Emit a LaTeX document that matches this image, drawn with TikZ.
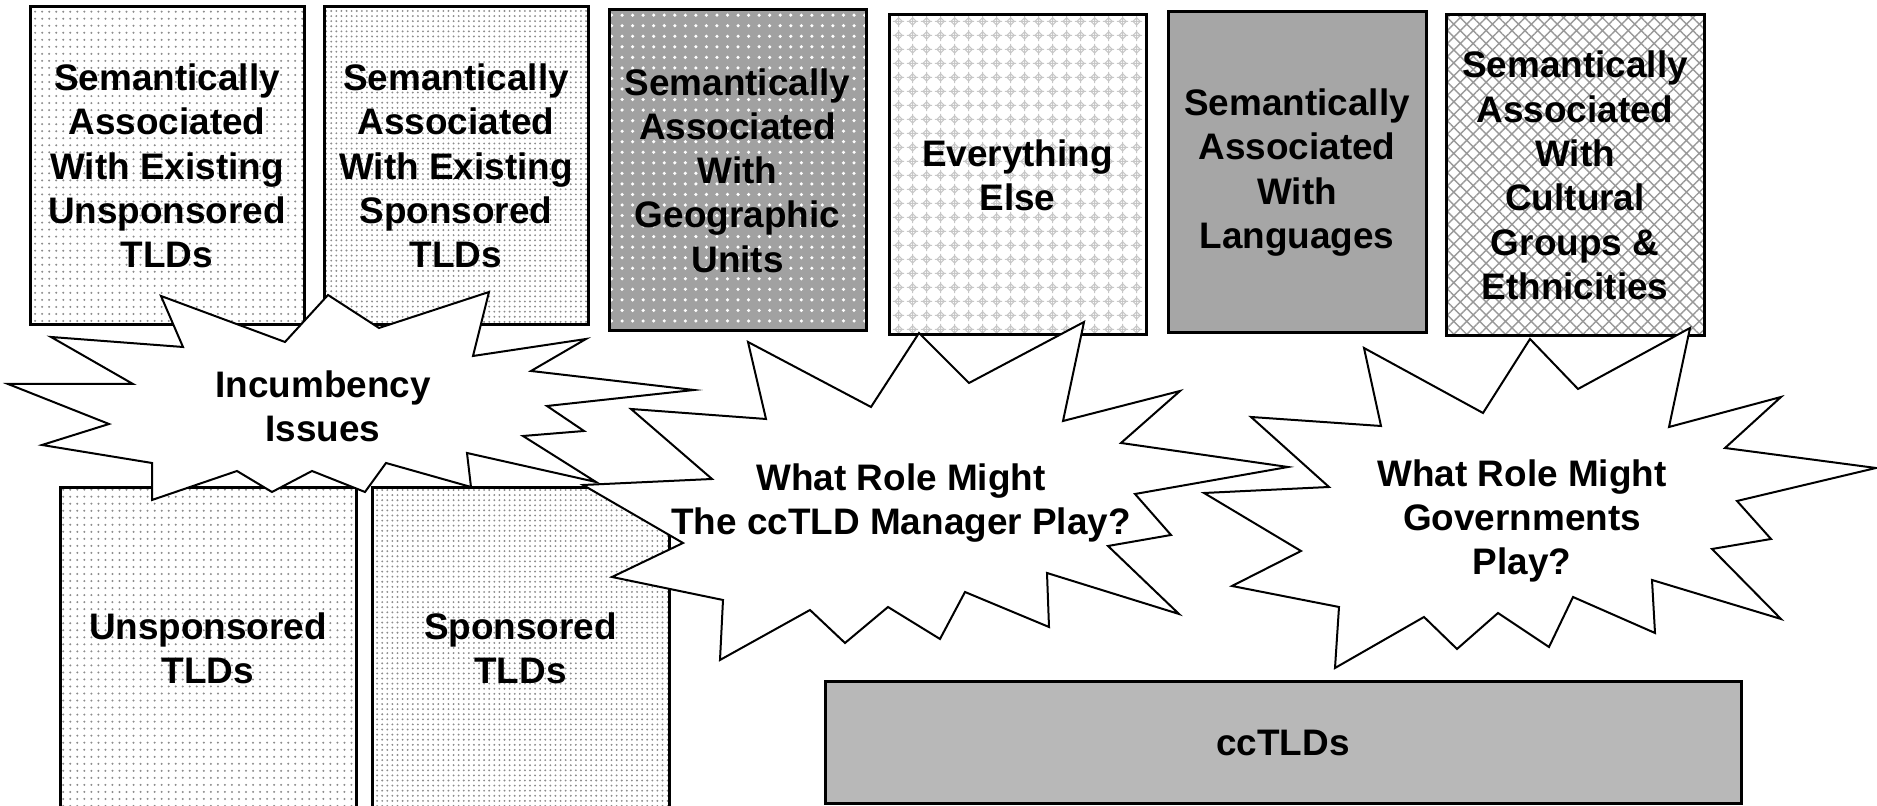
\documentclass[tikz,border=0pt]{standalone}
\usepackage{fontspec}
\setmainfont{Liberation Sans}
\usetikzlibrary{patterns.meta}

\newcommand\boxfont{\fontsize{10.5pt}{12.6pt}\selectfont\bfseries}

\tikzdeclarepattern{
  name=elsecross,
  type=uncolored,
  bottom left={(-2pt,-2pt)},
  top right={(2pt,2pt)},
  tile size={(4pt,4pt)},
  code={
    \draw[line width=0.35pt] (-1.1pt,0pt) -- (0pt,1.1pt) -- (1.1pt,0pt) -- (0pt,-1.1pt) -- cycle;
    \draw[line width=0.35pt] (-1.7pt,0pt) -- (1.7pt,0pt) (0pt,-1.7pt) -- (0pt,1.7pt);
  }
}

\begin{document}
\begin{tikzpicture}[x=0.1mm,y=-0.1mm,
    tldbox/.style={draw,line width=0.3mm,inner sep=0pt,align=center,font=\boxfont},
    sparse/.style={pattern={Dots[distance=2pt,radius=0.32pt]},pattern color=black!45},
    dense/.style={pattern={Dots[distance=1.45pt,radius=0.3pt]},pattern color=black!45},
    geo/.style={preaction={fill=black!37},pattern={Dots[distance=3pt,radius=0.5pt]},pattern color=white},
    other/.style={pattern=elsecross,pattern color=black!22},
    lang/.style={fill=black!35},
    cult/.style={pattern={Hatch[angle=45,distance=2.6pt,line width=0.4pt]},pattern color=black!40},
    cc/.style={fill=black!28},
    burst/.style={draw,fill=white,line width=0.2mm,line join=miter},
    bursttext/.style={align=center,font=\boxfont}]

  \useasboundingbox (0,0) rectangle (1877,806);

  \node[tldbox,sparse,minimum width=27.4mm,minimum height=31.8mm] (semunsp) at (167,166)
    {Semantically\\Associated\\With Existing\\Unsponsored\\TLDs};
  \node[tldbox,dense,minimum width=26.4mm,minimum height=31.8mm] (semsp) at (456,166)
    {Semantically\\Associated\\With Existing\\Sponsored\\TLDs};
  \node[tldbox,geo,minimum width=25.7mm,minimum height=32.1mm] (semgeo) at (737.5,170.5)
    {Semantically\\Associated\\With\\Geographic\\Units};
  \node[tldbox,other,minimum width=25.7mm,minimum height=32mm] (else) at (1017.5,175)
    {Everything\\Else};
  \node[tldbox,lang,minimum width=25.8mm,minimum height=32.1mm] (semlang) at (1297,172.5)
    {Semantically\\Associated\\With\\Languages};
  \node[tldbox,cult,minimum width=25.8mm,minimum height=32.1mm] (semcult) at (1575,175.5)
    {Semantically\\Associated\\With\\Cultural\\Groups \&\\Ethnicities};

  \node[tldbox,sparse,minimum width=29.6mm,minimum height=32.1mm] (unsp) at (208,648.5)
    {Unsponsored\\TLDs};
  \node[tldbox,dense,minimum width=29.7mm,minimum height=32.1mm] (sp) at (520.5,648.5)
    {Sponsored\\TLDs};
  \node[tldbox,cc,minimum width=91.6mm,minimum height=12.2mm] (cctld) at (1283,743)
    {ccTLDs};

  \draw[burst] (161,296) -- (183,347) -- (51,337) -- (133,384) -- (8,384) -- (109,424)
    -- (42,445) -- (152,463) -- (152,500) -- (237,471) -- (272,492) -- (312,471)
    -- (365,492) -- (386,463) -- (471,487) -- (467,453) -- (596,482) -- (523,436)
    -- (584,431) -- (547,406) -- (694,390) -- (531,371) -- (586,339) -- (473,356)
    -- (489,292) -- (379,328) -- (328,295) -- (285,342) -- cycle;
  \node[bursttext] (incumb) at (323,406) {Incumbency\\Issues};

  \draw[burst] (748,342) -- (871,407) -- (919,333) -- (969,383) -- (1084,322) -- (1063,421)
    -- (1180,391) -- (1121,443) -- (1288,467) -- (1135,494) -- (1171,535) -- (1108,546)
    -- (1179,614) -- (1047,573) -- (1049,627) -- (965,592) -- (940,639) -- (888,607)
    -- (845,643) -- (810,610) -- (720,660) -- (723,600) -- (612,577) -- (683,543)
    -- (583,485) -- (712,479) -- (631,409) -- (766,419) -- cycle;
  \node[bursttext] (manager) at (901,503) {What Role Might\\The ccTLD Manager Play?};

  \draw[burst] (1364,348) -- (1483,413) -- (1530,339) -- (1578,389) -- (1690,328) -- (1669,427)
    -- (1781,397) -- (1725,448) -- (1876,468) -- (1737,501) -- (1771,539) -- (1712,549)
    -- (1781,619) -- (1652,580) -- (1655,633) -- (1573,597) -- (1549,647) -- (1498,613)
    -- (1457,649) -- (1424,617) -- (1335,668) -- (1339,607) -- (1232,586) -- (1301,551)
    -- (1204,493) -- (1329,487) -- (1251,417) -- (1381,426) -- cycle;
  \node[bursttext] (govts) at (1522,521) {What Role Might\\Governments\\Play?};

\end{tikzpicture}
\end{document}
